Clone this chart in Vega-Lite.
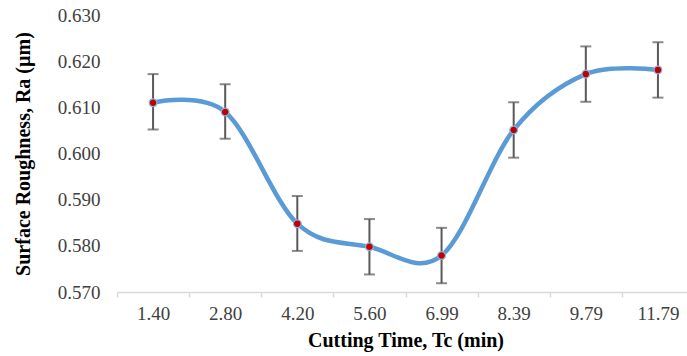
{
  "$schema": "https://vega.github.io/schema/vega-lite/v6.json",
  "autosize": {"type": "none"},
  "padding": {"left": 117, "top": 15, "right": 0, "bottom": 64},
  "width": 577,
  "height": 277,
  "background": "white",
  "config": {
    "view": {"stroke": null},
    "font": "Liberation Serif"
  },
  "data": {
    "values": [
      {"t": "1.40", "ra": 0.611, "lo": 0.6052, "hi": 0.6172},
      {"t": "2.80", "ra": 0.609, "lo": 0.6032, "hi": 0.6150},
      {"t": "4.20", "ra": 0.5848, "lo": 0.5789, "hi": 0.5908},
      {"t": "5.60", "ra": 0.5798, "lo": 0.5738, "hi": 0.5858},
      {"t": "6.99", "ra": 0.5779, "lo": 0.5719, "hi": 0.5839},
      {"t": "8.39", "ra": 0.6051, "lo": 0.5991, "hi": 0.6111},
      {"t": "9.79", "ra": 0.6172, "lo": 0.6112, "hi": 0.6232},
      {"t": "11.79", "ra": 0.6181, "lo": 0.6121, "hi": 0.6241}
    ]
  },
  "encoding": {
    "x": {
      "field": "t",
      "type": "ordinal",
      "sort": null,
      "scale": {"paddingInner": 0, "paddingOuter": 0},
      "axis": {
        "title": "Cutting Time, Tc (min)",
        "titleFont": "Liberation Serif",
        "titleFontSize": 20,
        "titleFontWeight": "bold",
        "titleColor": "#000000",
        "titlePadding": 7,
        "labelAngle": 0,
        "labelFont": "Liberation Serif",
        "labelFontSize": 19,
        "labelColor": "#404040",
        "labelPadding": 7,
        "tickBand": "extent",
        "tickColor": "#d9d9d9",
        "tickSize": 5,
        "tickWidth": 1.5,
        "domainColor": "#d9d9d9",
        "domainWidth": 1.5,
        "grid": false
      }
    }
  },
  "layer": [
    {
      "mark": {"type": "rule", "color": "#595959", "strokeWidth": 2},
      "encoding": {
        "y": {"field": "lo", "type": "quantitative"},
        "y2": {"field": "hi"}
      }
    },
    {
      "mark": {"type": "tick", "color": "#595959", "thickness": 2, "size": 11},
      "encoding": {"y": {"field": "lo", "type": "quantitative"}}
    },
    {
      "mark": {"type": "tick", "color": "#595959", "thickness": 2, "size": 11},
      "encoding": {"y": {"field": "hi", "type": "quantitative"}}
    },
    {
      "mark": {"type": "line", "color": "#5B9BD5", "strokeWidth": 4.5, "interpolate": "cardinal"},
      "encoding": {
        "y": {
          "field": "ra",
          "type": "quantitative",
          "scale": {"domain": [0.57, 0.63], "nice": false, "zero": false},
          "axis": {
            "title": "Surface Roughness, Ra (µm)",
            "titleFont": "Liberation Serif",
            "titleFontSize": 20,
            "titleFontWeight": "bold",
            "titleColor": "#000000",
            "titlePadding": 24,
            "values": [0.57, 0.58, 0.59, 0.6, 0.61, 0.62, 0.63],
            "format": ".3f",
            "labelFont": "Liberation Serif",
            "labelFontSize": 19,
            "labelColor": "#404040",
            "labelPadding": 17,
            "ticks": false,
            "domain": false,
            "grid": false
          }
        }
      }
    },
    {
      "mark": {"type": "point", "shape": "circle", "filled": true, "fill": "#C00000", "stroke": "#8DB4E2", "strokeWidth": 1.2, "opacity": 1, "size": 60},
      "encoding": {"y": {"field": "ra", "type": "quantitative"}}
    }
  ]
}
